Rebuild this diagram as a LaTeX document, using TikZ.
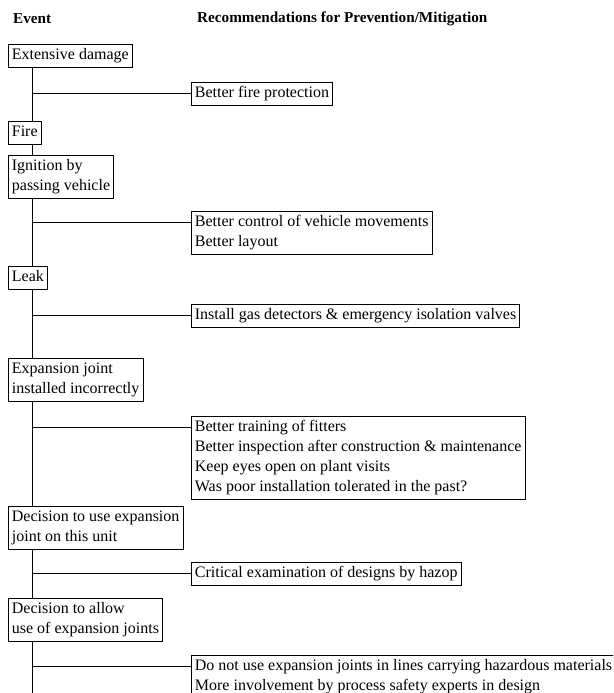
\documentclass[tikz,border=0pt]{standalone}
\usepackage{fontspec}
\setmainfont{Liberation Serif}
\usetikzlibrary{calc,backgrounds}
\begin{document}
\begin{tikzpicture}[x=1pt,y=1pt,
  txt/.style={font=\fontsize{16}{20}\selectfont},
  evbox/.style={txt, draw, fill=white, align=left, anchor=north west,
    inner xsep=3.5pt, inner ysep=1.5pt, line width=0.8pt},
  head/.style={font=\fontsize{15.2}{18}\selectfont\bfseries, anchor=west, inner sep=0pt},
  link/.style={line width=0.8pt}]
\useasboundingbox (0,0) rectangle (613,-693);
\clip (0,0) rectangle (613,-693);

% column headings
\node[head] (hev) at (13,-19) {Event};
\node[head] (hrec) at (197,-19) {Recommendations for Prevention/Mitigation};

% chain of events (left column)
\node[evbox] (e1) at (8,-44)    {\strut Extensive damage};
\node[evbox] (e2) at (8,-120.5) {\strut Fire};
\node[evbox] (e3) at (8,-155)   {\strut Ignition by\\\strut passing vehicle};
\node[evbox] (e4) at (8,-266)   {\strut Leak};
\node[evbox] (e5) at (8,-358)   {\strut Expansion joint\\\strut installed incorrectly};
\node[evbox] (e6) at (8,-506)   {\strut Decision to use expansion\\\strut joint on this unit};
\node[evbox] (e7) at (8,-598)   {\strut Decision to allow\\\strut use of expansion joints};

% recommendations (right column)
\node[evbox] (r1) at (191,-82)  {\strut Better fire protection};
\node[evbox] (r2) at (191,-210.5) {\strut Better control of vehicle movements\\\strut Better layout};
\node[evbox] (r3) at (191,-304) {\strut Install gas detectors \& emergency isolation valves};
\node[evbox] (r4) at (191,-416) {\strut Better training of fitters\\\strut Better inspection after construction \& maintenance\\\strut Keep eyes open on plant visits\\\strut Was poor installation tolerated in the past?};
\node[evbox] (r5) at (191,-562) {\strut Critical examination of designs by hazop};
\node[evbox] (r6) at (191,-655) {\strut Do not use expansion joints in lines carrying hazardous materials\\\strut More involvement by process safety experts in design};

% spine and branch points
\coordinate (sp) at ($(e1.south west)+(24,0)$);
\coordinate (bottom) at (0,-700);
\foreach \r in {r1,r2,r3,r4,r5,r6}
  \coordinate (\r c) at ($(\r.north west)+(0,-11.5)$);

\begin{scope}[on background layer]
  \draw[link] (sp) -- (sp |- bottom);
  \foreach \r in {r1,r2,r3,r4,r5,r6}
    \draw[link] (sp |- \r c) -- (\r c);
\end{scope}
\end{tikzpicture}
\end{document}
